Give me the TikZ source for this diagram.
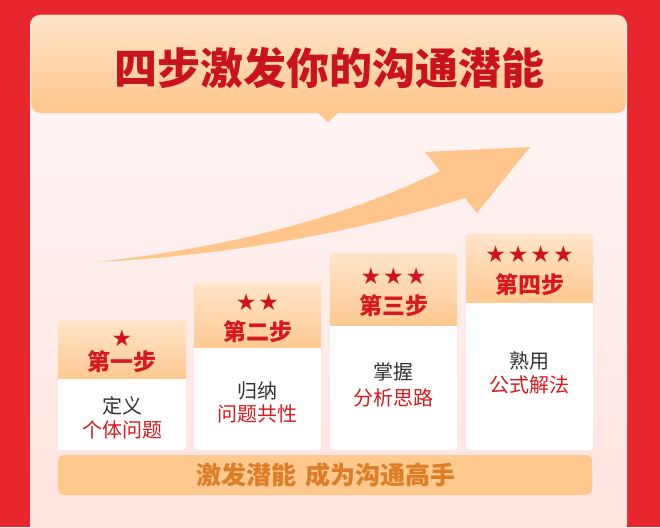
\documentclass[tikz,border=0pt]{standalone}
\usepackage{fontspec}
\newfontfamily\cjk{Noto Sans CJK SC}
\newfontfamily\symf{DejaVu Sans}
\definecolor{bgred}{HTML}{E8262D}
\definecolor{titred}{HTML}{C8141C}
\definecolor{stepred}{HTML}{D41A20}
\definecolor{starred}{HTML}{CC151D}
\definecolor{peachtop}{HTML}{FFE5CA}
\definecolor{peachbot}{HTML}{FFC68C}
\definecolor{arrowc}{HTML}{FFC58D}
\definecolor{bannerc}{HTML}{FFC88D}
\definecolor{bannertext}{HTML}{DC7E28}
\definecolor{darktext}{HTML}{333333}
\definecolor{paneltop}{HTML}{FFF8F8}
\definecolor{panelbot}{HTML}{FFE3DF}
\definecolor{boxline}{HTML}{F9DEDC}
\tikzset{
  headfill/.style={top color=peachtop,bottom color=peachbot},
  titletext/.style={font=\cjk\bfseries\fontsize{43}{50}\selectfont,text=titred},
  steptext/.style={font=\cjk\bfseries\fontsize{23}{28}\selectfont,text=stepred},
  startext/.style={font=\symf\fontsize{23}{26}\selectfont,text=starred},
  darkline/.style={font=\cjk\fontsize{20}{24}\selectfont,text=darktext},
  redline/.style={font=\cjk\fontsize{20}{24}\selectfont,text=stepred},
  bannertxt/.style={font=\cjk\bfseries\fontsize{25}{30}\selectfont,text=bannertext},
}
\begin{document}
\begin{tikzpicture}[x=1pt,y=-1pt]
\useasboundingbox (0,0) rectangle (660,527);
\fill[bgred] (0,0) rectangle (660,527);
% panel
\shade[top color=paneltop,bottom color=panelbot,rounded corners=10] (30,15) rectangle (627,535);
% header
\shade[headfill,rounded corners=9] (31,15) rectangle (626,113);
\fill[peachbot] (317,112) -- (339,112) -- (328,122) -- cycle;
\node[titletext] (title) at (329,68) {四步激发你的沟通潜能};
% arrow
\fill[arrowc] (97,262) .. controls (250,245) and (360,210) .. (440,171)
  -- (425,152) -- (530,147) -- (477,213) -- (465,198)
  .. controls (370,228) and (240,255) .. (97,262) -- cycle;
% steps
\foreach \xa/\xb/\top/\hb in {58/186/320/379, 194/321/283/348, 330/457/253/326, 466/593/234/303}{
  \fill[white,draw=boxline,rounded corners=3] (\xa,\top) rectangle (\xb,450);
  \shade[headfill,rounded corners=3] (\xa,\top) rectangle (\xb,\hb+5);
  \fill[white] (\xa+0.2,\hb) -- (\xb-0.2,\hb) [rounded corners=3] -- (\xb-0.2,449.8) -- (\xa+0.2,449.8) [sharp corners] -- cycle;
}
\node[startext] (s1) at (122,338) {★};
\node[steptext] (h1) at (122,362) {第一步};
\node[darkline] (a1) at (122,406) {定义};
\node[redline] (b1) at (122,430) {个体问题};
\node[startext] (s2) at (257.5,302) {★\kern2pt★};
\node[steptext] (h2) at (257.5,332) {第二步};
\node[darkline] (a2) at (257.5,391) {归纳};
\node[redline] (b2) at (257.5,414) {问题共性};
\node[startext] (s3) at (393.5,276) {★\kern2pt★\kern2pt★};
\node[steptext] (h3) at (393.5,306) {第三步};
\node[darkline] (a3) at (393.5,372) {掌握};
\node[redline] (b3) at (393.5,398) {分析思路};
\node[startext] (s4) at (529.5,254) {★\kern2pt★\kern2pt★\kern2pt★};
\node[steptext] (h4) at (529.5,285) {第四步};
\node[darkline] (a4) at (529.5,361) {熟用};
\node[redline] (b4) at (529.5,385) {公式解法};
% banner
\fill[bannerc,rounded corners=6] (58,455) rectangle (592,495);
\node[bannertxt] (banner) at (326,475) {激发潜能\hspace{4pt} 成为沟通高手};
\end{tikzpicture}
\end{document}
